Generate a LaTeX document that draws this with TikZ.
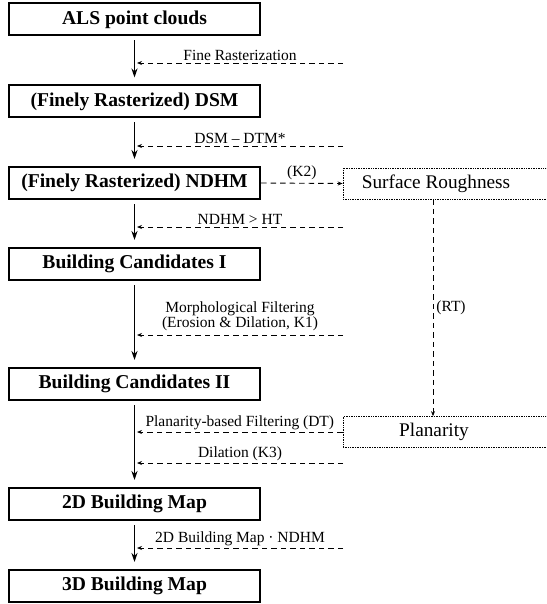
\documentclass[tikz,border=0pt]{standalone}
\usepackage{fontspec}
\setmainfont{Liberation Serif}
\usetikzlibrary{arrows.meta}

\begin{document}
\begin{tikzpicture}[x=1pt, y=-1pt]
		\tikzset{
			every node/.style={
				align=center,
				inner sep=0pt
			},
			stage/.style={
				draw,
				rectangle,
				line width=2pt,
				minimum width=251pt,
				minimum height=32pt,
				font=\fontsize{19.6}{22}\selectfont\bfseries
			},
			cue/.style={
				draw,
				rectangle,
				densely dotted,
				line width=0.7pt,
				minimum width=208pt,
				minimum height=31pt,
				font=\fontsize{19.3}{22}\selectfont
			},
			note/.style={
				font=\fontsize{15.5}{13}\selectfont
			},
			flow/.style={
				-{Stealth[length=9pt, width=6pt]},
				line width=1.5pt,
				shorten <=4pt,
				shorten >=7pt
			},
			hint/.style={
				-{Stealth[length=5pt, width=4pt]},
				line width=0.9pt,
				dash pattern=on 5.5pt off 4pt
			}
		}

		\useasboundingbox (0, 0) rectangle (546, 604);
		\clip (0, 0) rectangle (546, 604);

		\node[stage] (als) at (134.5, 19.5)
			{ALS point clouds};
		\node[stage] (dsm) at (134.5, 101.5)
			{(Finely Rasterized) DSM};
		\node[stage] (ndhm) at (134.5, 183)
			{(Finely Rasterized) NDHM};
		\node[stage] (bc1) at (134.5, 264)
			{Building Candidates I};
		\node[stage] (bc2) at (134.5, 384)
			{Building Candidates II};
		\node[stage] (map2d) at (134.5, 504)
			{2D Building Map};
		\node[stage] (map3d) at (134.5, 586)
			{3D Building Map};

		\node[cue] (rough) at (447, 183.5)
			{\hspace*{-22pt}Surface Roughness};
		\node[cue] (plan) at (447, 432)
			{\hspace*{-26pt}Planarity};

		% free ends of the dashed cues
		\coordinate (c1) at (343, 63);
		\coordinate (c2) at (343, 146);
		\coordinate (c3) at (343, 227);
		\coordinate (c4) at (343, 335);
		\coordinate (c6) at (343, 463);
		\coordinate (c7) at (343, 548);

		\draw[flow] (als) -- (dsm);
		\draw[flow] (dsm) -- (ndhm);
		\draw[flow] (ndhm) -- (bc1);
		\draw[flow] (bc1) -- (bc2);
		\draw[flow] (bc2) -- (map2d);
		\draw[flow] (map2d) -- (map3d);

		\draw[hint] (c1) -- ([xshift=2.5pt]c1 -| als.south)
			node[note, midway, above=2pt] {Fine Rasterization};
		\draw[hint] (c2) -- ([xshift=2.5pt]c2 -| als.south)
			node[note, midway, above=2pt] {DSM -- DTM*};
		\draw[hint] (c3) -- ([xshift=2.5pt]c3 -| als.south)
			node[note, midway, above=2pt] {NDHM > HT};
		\draw[hint] (c4) -- ([xshift=2.5pt]c4 -| als.south)
			node[note, midway, above=4pt] {Morphological Filtering\\(Erosion \& Dilation, K1)};
		\draw[hint] (plan.west) -- ([xshift=2.5pt]plan.west -| als.south)
			node[note, midway, above=2pt] {Planarity-based Filtering (DT)};
		\draw[hint] (c6) -- ([xshift=2.5pt]c6 -| als.south)
			node[note, midway, above=2pt] {Dilation (K3)};
		\draw[hint] (c7) -- ([xshift=2.5pt]c7 -| als.south)
			node[note, midway, above=2pt] {2D Building Map · NDHM};

		\draw[hint] (ndhm.east) -- (rough.west)
			node[note, midway, above=3pt] {(K2)};
		\draw[hint] ([xshift=-14pt]rough.south) -- ([xshift=-14pt]plan.north)
			node[note, pos=0.5, right=3pt] {(RT)};

	\end{tikzpicture}
\end{document}
